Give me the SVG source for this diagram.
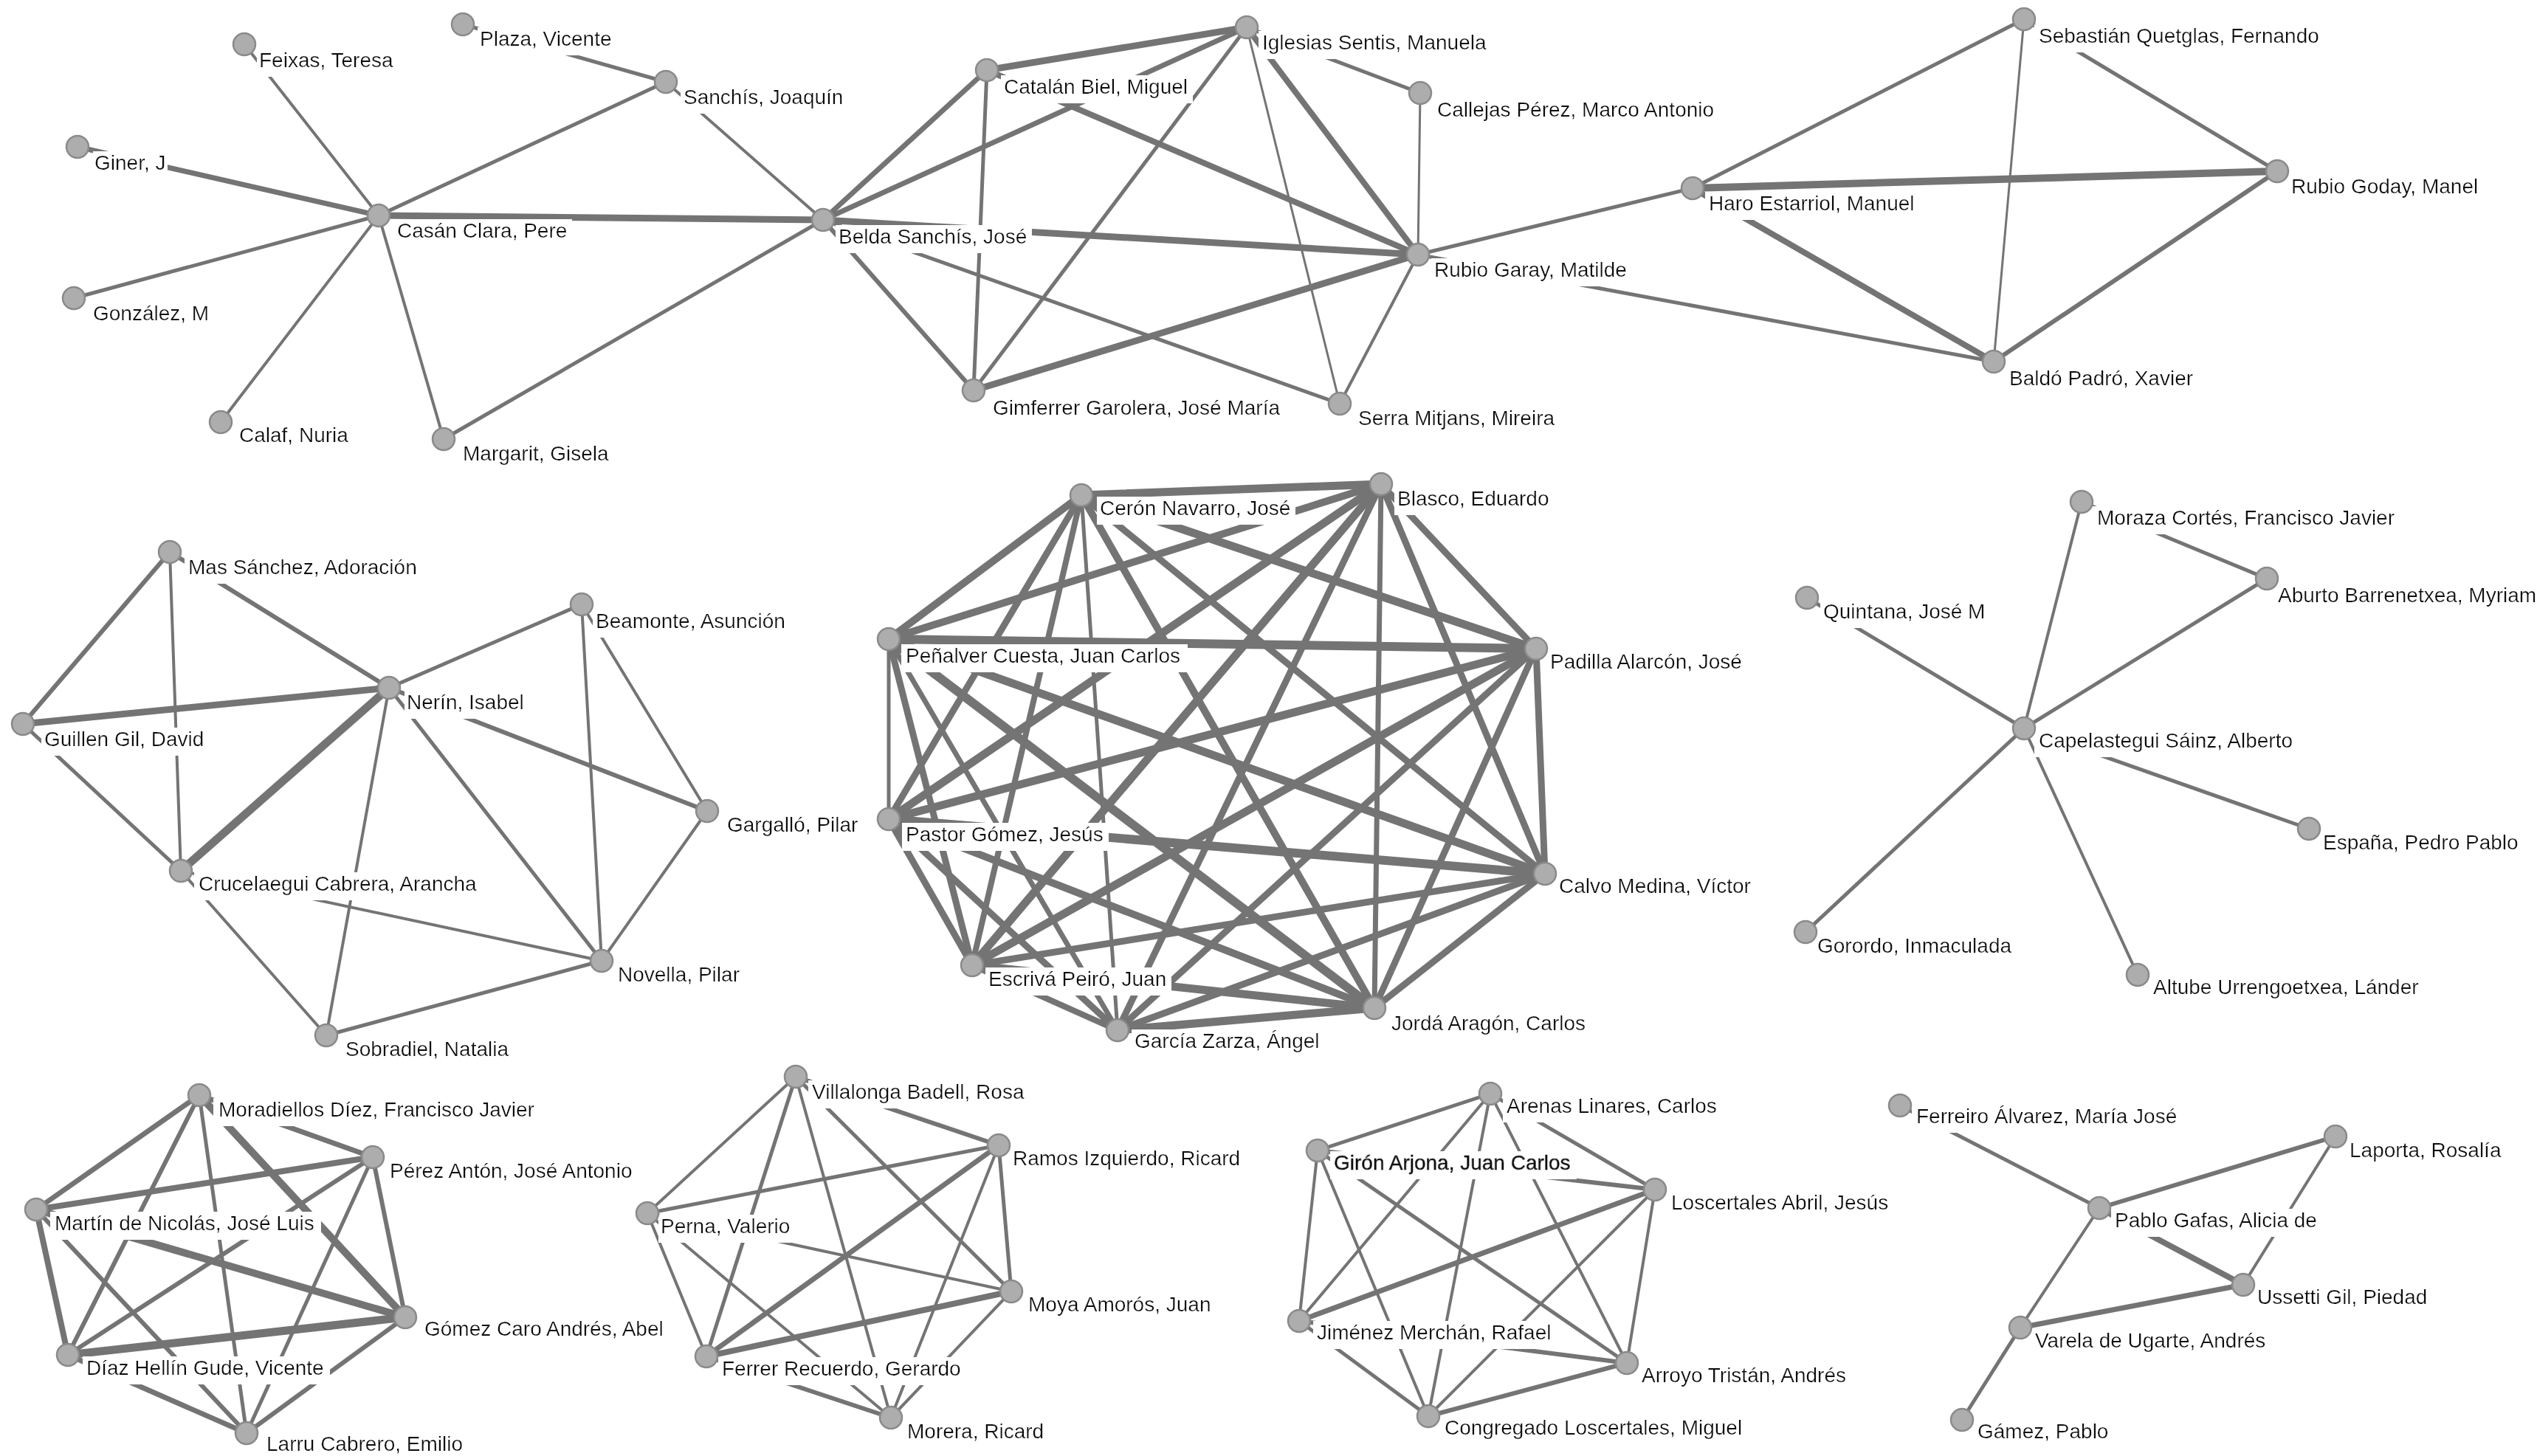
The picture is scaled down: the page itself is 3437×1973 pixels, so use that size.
<svg xmlns="http://www.w3.org/2000/svg" width="3437" height="1973" viewBox="0 0 3437 1973">
<style>
.bg{fill:#fff}
#edges line{stroke:#747474;stroke-linecap:round}
.w3{stroke-width:3}.w4{stroke-width:4}.w5{stroke-width:5}.w6{stroke-width:6}.w7{stroke-width:7}.w8{stroke-width:8}.w9{stroke-width:9}.w10{stroke-width:10}.w11{stroke-width:11}.w12{stroke-width:12}
.node circle{fill:#adadad;stroke:#8a8a8a;stroke-width:2.5}
.node text{font-family:"Liberation Sans",Arial,sans-serif;font-size:28px;fill:#111}
</style>
<defs>
<filter id="lbl" x="-0.015" y="0" width="1.04" height="1.22">
<feFlood flood-color="#ffffff" result="bg"/>
<feMerge><feMergeNode in="bg"/><feMergeNode in="SourceGraphic"/></feMerge>
</filter>
</defs>
<rect class="bg" x="0" y="0" width="3437" height="1973"/>
<g id="edges">
<!-- cluster 1 -->
<line class="w4" x1="513" y1="292" x2="331" y2="60"/>
<line class="w7" x1="513" y1="292" x2="105" y2="199"/>
<line class="w5" x1="513" y1="292" x2="100" y2="404"/>
<line class="w4" x1="513" y1="292" x2="299" y2="572"/>
<line class="w4" x1="513" y1="292" x2="601" y2="595"/>
<line class="w5" x1="513" y1="292" x2="902" y2="111"/>
<line class="w9" x1="513" y1="292" x2="1115" y2="298"/>
<line class="w5" x1="627" y1="33" x2="902" y2="111"/>
<line class="w4" x1="902" y1="111" x2="1115" y2="298"/>
<line class="w5" x1="601" y1="595" x2="1115" y2="298"/>
<line class="w7" x1="1115" y1="298" x2="1337" y2="95"/>
<line class="w7" x1="1115" y1="298" x2="1689" y2="37"/>
<line class="w9" x1="1115" y1="298" x2="1921" y2="345"/>
<line class="w6" x1="1115" y1="298" x2="1319" y2="529"/>
<line class="w5" x1="1115" y1="298" x2="1815" y2="547"/>
<line class="w9" x1="1337" y1="95" x2="1689" y2="37"/>
<line class="w5" x1="1337" y1="95" x2="1319" y2="529"/>
<line class="w8" x1="1337" y1="95" x2="1921" y2="345"/>
<line class="w5" x1="1689" y1="37" x2="1319" y2="529"/>
<line class="w3" x1="1689" y1="37" x2="1815" y2="547"/>
<line class="w8" x1="1689" y1="37" x2="1921" y2="345"/>
<line class="w5" x1="1689" y1="37" x2="1924" y2="126"/>
<line class="w3" x1="1924" y1="126" x2="1921" y2="345"/>
<line class="w9" x1="1319" y1="529" x2="1921" y2="345"/>
<line class="w4" x1="1815" y1="547" x2="1921" y2="345"/>
<line class="w5" x1="1921" y1="345" x2="2293" y2="255"/>
<line class="w5" x1="1921" y1="345" x2="2701" y2="490"/>
<line class="w5" x1="2293" y1="255" x2="2742" y2="26"/>
<line class="w10" x1="2293" y1="255" x2="3085" y2="232"/>
<line class="w8" x1="2293" y1="255" x2="2701" y2="490"/>
<line class="w3" x1="2742" y1="26" x2="2701" y2="490"/>
<line class="w5" x1="2742" y1="26" x2="3085" y2="232"/>
<line class="w6" x1="3085" y1="232" x2="2701" y2="490"/>
<!-- cluster 2 -->
<line class="w6" x1="230" y1="748" x2="31" y2="981"/>
<line class="w4" x1="230" y1="748" x2="245" y2="1180"/>
<line class="w6" x1="230" y1="748" x2="527" y2="932"/>
<line class="w9" x1="31" y1="981" x2="527" y2="932"/>
<line class="w5" x1="31" y1="981" x2="245" y2="1180"/>
<line class="w11" x1="245" y1="1180" x2="527" y2="932"/>
<line class="w5" x1="527" y1="932" x2="788" y2="819"/>
<line class="w4" x1="527" y1="932" x2="442" y2="1403"/>
<line class="w6" x1="527" y1="932" x2="958" y2="1099"/>
<line class="w5" x1="527" y1="932" x2="815" y2="1302"/>
<line class="w4" x1="788" y1="819" x2="815" y2="1302"/>
<line class="w4" x1="788" y1="819" x2="958" y2="1099"/>
<line class="w4" x1="958" y1="1099" x2="815" y2="1302"/>
<line class="w4" x1="245" y1="1180" x2="815" y2="1302"/>
<line class="w4" x1="245" y1="1180" x2="442" y2="1403"/>
<line class="w5" x1="442" y1="1403" x2="815" y2="1302"/>
<!-- cluster 3 -->
<line class="w11" x1="1465" y1="671" x2="1871" y2="656"/>
<line class="w10" x1="1465" y1="671" x2="1204" y2="866"/>
<line class="w11" x1="1465" y1="671" x2="2081" y2="879"/>
<line class="w9" x1="1465" y1="671" x2="1204" y2="1110"/>
<line class="w9" x1="1465" y1="671" x2="2093" y2="1184"/>
<line class="w8" x1="1465" y1="671" x2="1317" y2="1308"/>
<line class="w10" x1="1465" y1="671" x2="1862" y2="1366"/>
<line class="w5" x1="1465" y1="671" x2="1514" y2="1396"/>
<line class="w10" x1="1871" y1="656" x2="1204" y2="866"/>
<line class="w9" x1="1871" y1="656" x2="2081" y2="879"/>
<line class="w11" x1="1871" y1="656" x2="1204" y2="1110"/>
<line class="w9" x1="1871" y1="656" x2="2093" y2="1184"/>
<line class="w11" x1="1871" y1="656" x2="1317" y2="1308"/>
<line class="w7" x1="1871" y1="656" x2="1862" y2="1366"/>
<line class="w9" x1="1871" y1="656" x2="1514" y2="1396"/>
<line class="w12" x1="1204" y1="866" x2="2081" y2="879"/>
<line class="w5" x1="1204" y1="866" x2="1204" y2="1110"/>
<line class="w11" x1="1204" y1="866" x2="2093" y2="1184"/>
<line class="w9" x1="1204" y1="866" x2="1317" y2="1308"/>
<line class="w12" x1="1204" y1="866" x2="1862" y2="1366"/>
<line class="w7" x1="1204" y1="866" x2="1514" y2="1396"/>
<line class="w11" x1="2081" y1="879" x2="1204" y2="1110"/>
<line class="w9" x1="2081" y1="879" x2="2093" y2="1184"/>
<line class="w11" x1="2081" y1="879" x2="1317" y2="1308"/>
<line class="w9" x1="2081" y1="879" x2="1862" y2="1366"/>
<line class="w9" x1="2081" y1="879" x2="1514" y2="1396"/>
<line class="w12" x1="1204" y1="1110" x2="2093" y2="1184"/>
<line class="w9" x1="1204" y1="1110" x2="1317" y2="1308"/>
<line class="w10" x1="1204" y1="1110" x2="1862" y2="1366"/>
<line class="w9" x1="1204" y1="1110" x2="1514" y2="1396"/>
<line class="w9" x1="2093" y1="1184" x2="1317" y2="1308"/>
<line class="w9" x1="2093" y1="1184" x2="1862" y2="1366"/>
<line class="w9" x1="2093" y1="1184" x2="1514" y2="1396"/>
<line class="w11" x1="1317" y1="1308" x2="1862" y2="1366"/>
<line class="w8" x1="1317" y1="1308" x2="1514" y2="1396"/>
<line class="w11" x1="1862" y1="1366" x2="1514" y2="1396"/>
<!-- cluster 4 -->
<line class="w4" x1="2742" y1="987" x2="2820" y2="680"/>
<line class="w5" x1="2742" y1="987" x2="3071" y2="784"/>
<line class="w5" x1="2820" y1="680" x2="3071" y2="784"/>
<line class="w5" x1="2742" y1="987" x2="2448" y2="810"/>
<line class="w5" x1="2742" y1="987" x2="3128" y2="1123"/>
<line class="w5" x1="2742" y1="987" x2="2446" y2="1263"/>
<line class="w4" x1="2742" y1="987" x2="2896" y2="1321"/>
<!-- cluster 5 -->
<line class="w7" x1="270" y1="1484" x2="49" y2="1639"/>
<line class="w7" x1="270" y1="1484" x2="505" y2="1568"/>
<line class="w10" x1="270" y1="1484" x2="549" y2="1785"/>
<line class="w6" x1="270" y1="1484" x2="92" y2="1836"/>
<line class="w5" x1="270" y1="1484" x2="334" y2="1942"/>
<line class="w8" x1="505" y1="1568" x2="49" y2="1639"/>
<line class="w6" x1="505" y1="1568" x2="549" y2="1785"/>
<line class="w6" x1="505" y1="1568" x2="92" y2="1836"/>
<line class="w5" x1="505" y1="1568" x2="334" y2="1942"/>
<line class="w10" x1="49" y1="1639" x2="549" y2="1785"/>
<line class="w8" x1="49" y1="1639" x2="92" y2="1836"/>
<line class="w6" x1="49" y1="1639" x2="334" y2="1942"/>
<line class="w11" x1="549" y1="1785" x2="92" y2="1836"/>
<line class="w6" x1="549" y1="1785" x2="334" y2="1942"/>
<line class="w7" x1="92" y1="1836" x2="334" y2="1942"/>
<!-- cluster 6 -->
<line class="w4" x1="1078" y1="1459" x2="877" y2="1644"/>
<line class="w6" x1="1078" y1="1459" x2="1353" y2="1552"/>
<line class="w5" x1="1078" y1="1459" x2="1370" y2="1750"/>
<line class="w5" x1="1078" y1="1459" x2="957" y2="1838"/>
<line class="w4" x1="1078" y1="1459" x2="1207" y2="1921"/>
<line class="w5" x1="1353" y1="1552" x2="877" y2="1644"/>
<line class="w5" x1="1353" y1="1552" x2="1370" y2="1750"/>
<line class="w7" x1="1353" y1="1552" x2="957" y2="1838"/>
<line class="w4" x1="1353" y1="1552" x2="1207" y2="1921"/>
<line class="w4" x1="877" y1="1644" x2="1370" y2="1750"/>
<line class="w4" x1="877" y1="1644" x2="957" y2="1838"/>
<line class="w4" x1="877" y1="1644" x2="1207" y2="1921"/>
<line class="w8" x1="1370" y1="1750" x2="957" y2="1838"/>
<line class="w4" x1="1370" y1="1750" x2="1207" y2="1921"/>
<line class="w6" x1="957" y1="1838" x2="1207" y2="1921"/>
<!-- cluster 7 -->
<line class="w5" x1="2019" y1="1482" x2="1785" y2="1559"/>
<line class="w5" x1="2019" y1="1482" x2="2242" y2="1612"/>
<line class="w4" x1="2019" y1="1482" x2="1760" y2="1790"/>
<line class="w4" x1="2019" y1="1482" x2="1935" y2="1919"/>
<line class="w4" x1="2019" y1="1482" x2="2204" y2="1847"/>
<line class="w6" x1="1785" y1="1559" x2="2242" y2="1612"/>
<line class="w4" x1="1785" y1="1559" x2="1760" y2="1790"/>
<line class="w5" x1="1785" y1="1559" x2="2204" y2="1847"/>
<line class="w4" x1="1785" y1="1559" x2="1935" y2="1919"/>
<line class="w7" x1="2242" y1="1612" x2="1760" y2="1790"/>
<line class="w4" x1="2242" y1="1612" x2="2204" y2="1847"/>
<line class="w4" x1="2242" y1="1612" x2="1935" y2="1919"/>
<line class="w6" x1="1760" y1="1790" x2="2204" y2="1847"/>
<line class="w5" x1="1760" y1="1790" x2="1935" y2="1919"/>
<line class="w6" x1="2204" y1="1847" x2="1935" y2="1919"/>
<!-- cluster 8 -->
<line class="w5" x1="2574" y1="1498" x2="2844" y2="1637"/>
<line class="w6" x1="2844" y1="1637" x2="3164" y2="1540"/>
<line class="w4" x1="3164" y1="1540" x2="3039" y2="1741"/>
<line class="w8" x1="2844" y1="1637" x2="3039" y2="1741"/>
<line class="w4" x1="2844" y1="1637" x2="2737" y2="1799"/>
<line class="w7" x1="2737" y1="1799" x2="3039" y2="1741"/>
<line class="w5" x1="2737" y1="1799" x2="2658" y2="1924"/>
</g>
<g id="nodes">
<g id="n-casan" class="node"><text x="538" y="322" filter="url(#lbl)">Casán Clara, Pere</text><circle cx="513" cy="292" r="15"/></g>
<g id="n-feixas" class="node"><text x="351" y="91" filter="url(#lbl)">Feixas, Teresa</text><circle cx="331" cy="60" r="15"/></g>
<g id="n-plaza" class="node"><text x="650" y="62" filter="url(#lbl)">Plaza, Vicente</text><circle cx="627" cy="33" r="15"/></g>
<g id="n-sanchis" class="node"><text x="926" y="141" filter="url(#lbl)">Sanchís, Joaquín</text><circle cx="902" cy="111" r="15"/></g>
<g id="n-giner" class="node"><text x="128" y="230" filter="url(#lbl)">Giner, J</text><circle cx="105" cy="199" r="15"/></g>
<g id="n-gonzalez" class="node"><text x="126" y="434" filter="url(#lbl)">González, M</text><circle cx="100" cy="404" r="15"/></g>
<g id="n-calaf" class="node"><text x="324" y="599" filter="url(#lbl)">Calaf, Nuria</text><circle cx="299" cy="572" r="15"/></g>
<g id="n-margarit" class="node"><text x="627" y="624" filter="url(#lbl)">Margarit, Gisela</text><circle cx="601" cy="595" r="15"/></g>
<g id="n-belda" class="node"><text x="1136" y="330" filter="url(#lbl)">Belda Sanchís, José</text><circle cx="1115" cy="298" r="15"/></g>
<g id="n-catalan" class="node"><text x="1360" y="127" filter="url(#lbl)">Catalán Biel, Miguel</text><circle cx="1337" cy="95" r="15"/></g>
<g id="n-iglesias" class="node"><text x="1710" y="67" filter="url(#lbl)">Iglesias Sentis, Manuela</text><circle cx="1689" cy="37" r="15"/></g>
<g id="n-callejas" class="node"><text x="1947" y="158" filter="url(#lbl)">Callejas Pérez, Marco Antonio</text><circle cx="1924" cy="126" r="15"/></g>
<g id="n-rgaray" class="node"><text x="1943" y="375" filter="url(#lbl)">Rubio Garay, Matilde</text><circle cx="1921" cy="345" r="15"/></g>
<g id="n-gimferrer" class="node"><text x="1345" y="562" filter="url(#lbl)">Gimferrer Garolera, José María</text><circle cx="1319" cy="529" r="15"/></g>
<g id="n-serra" class="node"><text x="1840" y="576" filter="url(#lbl)">Serra Mitjans, Mireira</text><circle cx="1815" cy="547" r="15"/></g>
<g id="n-haro" class="node"><text x="2315" y="285" filter="url(#lbl)">Haro Estarriol, Manuel</text><circle cx="2293" cy="255" r="15"/></g>
<g id="n-sebastian" class="node"><text x="2762" y="58" filter="url(#lbl)">Sebastián Quetglas, Fernando</text><circle cx="2742" cy="26" r="15"/></g>
<g id="n-rgoday" class="node"><text x="3104" y="262" filter="url(#lbl)">Rubio Goday, Manel</text><circle cx="3085" cy="232" r="15"/></g>
<g id="n-baldo" class="node"><text x="2722" y="522" filter="url(#lbl)">Baldó Padró, Xavier</text><circle cx="2701" cy="490" r="15"/></g>

<g id="n-mas" class="node"><text x="255" y="778" filter="url(#lbl)">Mas Sánchez, Adoración</text><circle cx="230" cy="748" r="15"/></g>
<g id="n-guillen" class="node"><text x="60" y="1011" filter="url(#lbl)">Guillen Gil, David</text><circle cx="31" cy="981" r="15"/></g>
<g id="n-nerin" class="node"><text x="551" y="961" filter="url(#lbl)">Nerín, Isabel</text><circle cx="527" cy="932" r="15"/></g>
<g id="n-beamonte" class="node"><text x="807" y="851" filter="url(#lbl)">Beamonte, Asunción</text><circle cx="788" cy="819" r="15"/></g>
<g id="n-gargallo" class="node"><text x="985" y="1127" filter="url(#lbl)">Gargalló, Pilar</text><circle cx="958" cy="1099" r="15"/></g>
<g id="n-cruce" class="node"><text x="269" y="1207" filter="url(#lbl)">Crucelaegui Cabrera, Arancha</text><circle cx="245" cy="1180" r="15"/></g>
<g id="n-novella" class="node"><text x="837" y="1330" filter="url(#lbl)">Novella, Pilar</text><circle cx="815" cy="1302" r="15"/></g>
<g id="n-sobradiel" class="node"><text x="468" y="1431" filter="url(#lbl)">Sobradiel, Natalia</text><circle cx="442" cy="1403" r="15"/></g>

<g id="n-ceron" class="node"><text x="1490" y="698" filter="url(#lbl)">Cerón Navarro, José</text><circle cx="1465" cy="671" r="15"/></g>
<g id="n-blasco" class="node"><text x="1893" y="685" filter="url(#lbl)">Blasco, Eduardo</text><circle cx="1871" cy="656" r="15"/></g>
<g id="n-penalver" class="node"><text x="1227" y="898" filter="url(#lbl)">Peñalver Cuesta, Juan Carlos</text><circle cx="1204" cy="866" r="15"/></g>
<g id="n-padilla" class="node"><text x="2100" y="906" filter="url(#lbl)">Padilla Alarcón, José</text><circle cx="2081" cy="879" r="15"/></g>
<g id="n-pastor" class="node"><text x="1227" y="1140" filter="url(#lbl)">Pastor Gómez, Jesús</text><circle cx="1204" cy="1110" r="15"/></g>
<g id="n-calvo" class="node"><text x="2112" y="1210" filter="url(#lbl)">Calvo Medina, Víctor</text><circle cx="2093" cy="1184" r="15"/></g>
<g id="n-escriva" class="node"><text x="1339" y="1336" filter="url(#lbl)">Escrivá Peiró, Juan</text><circle cx="1317" cy="1308" r="15"/></g>
<g id="n-jorda" class="node"><text x="1885" y="1396" filter="url(#lbl)">Jordá Aragón, Carlos</text><circle cx="1862" cy="1366" r="15"/></g>
<g id="n-garcia" class="node"><text x="1537" y="1420" filter="url(#lbl)">García Zarza, Ángel</text><circle cx="1514" cy="1396" r="15"/></g>

<g id="n-moraza" class="node"><text x="2841" y="711" filter="url(#lbl)">Moraza Cortés, Francisco Javier</text><circle cx="2820" cy="680" r="15"/></g>
<g id="n-aburto" class="node"><text x="3086" y="816" filter="url(#lbl)">Aburto Barrenetxea, Myriam</text><circle cx="3071" cy="784" r="15"/></g>
<g id="n-quintana" class="node"><text x="2470" y="838" filter="url(#lbl)">Quintana, José M</text><circle cx="2448" cy="810" r="15"/></g>
<g id="n-capel" class="node"><text x="2762" y="1013" filter="url(#lbl)">Capelastegui Sáinz, Alberto</text><circle cx="2742" cy="987" r="15"/></g>
<g id="n-espana" class="node"><text x="3147" y="1151" filter="url(#lbl)">España, Pedro Pablo</text><circle cx="3128" cy="1123" r="15"/></g>
<g id="n-gorordo" class="node"><text x="2462" y="1291" filter="url(#lbl)">Gorordo, Inmaculada</text><circle cx="2446" cy="1263" r="15"/></g>
<g id="n-altube" class="node"><text x="2917" y="1347" filter="url(#lbl)">Altube Urrengoetxea, Lánder</text><circle cx="2896" cy="1321" r="15"/></g>

<g id="n-moradiellos" class="node"><text x="296" y="1513" filter="url(#lbl)">Moradiellos Díez, Francisco Javier</text><circle cx="270" cy="1484" r="15"/></g>
<g id="n-perez" class="node"><text x="528" y="1596" filter="url(#lbl)">Pérez Antón, José Antonio</text><circle cx="505" cy="1568" r="15"/></g>
<g id="n-martin" class="node"><text x="74" y="1667" filter="url(#lbl)">Martín de Nicolás, José Luis</text><circle cx="49" cy="1639" r="15"/></g>
<g id="n-gomez" class="node"><text x="575" y="1810" filter="url(#lbl)">Gómez Caro Andrés, Abel</text><circle cx="549" cy="1785" r="15"/></g>
<g id="n-diaz" class="node"><text x="117" y="1863" filter="url(#lbl)">Díaz Hellín Gude, Vicente</text><circle cx="92" cy="1836" r="15"/></g>
<g id="n-larru" class="node"><text x="361" y="1966" filter="url(#lbl)">Larru Cabrero, Emilio</text><circle cx="334" cy="1942" r="15"/></g>

<g id="n-villalonga" class="node"><text x="1100" y="1489" filter="url(#lbl)">Villalonga Badell, Rosa</text><circle cx="1078" cy="1459" r="15"/></g>
<g id="n-ramos" class="node"><text x="1372" y="1579" filter="url(#lbl)">Ramos Izquierdo, Ricard</text><circle cx="1353" cy="1552" r="15"/></g>
<g id="n-perna" class="node"><text x="895" y="1671" filter="url(#lbl)">Perna, Valerio</text><circle cx="877" cy="1644" r="15"/></g>
<g id="n-moya" class="node"><text x="1393" y="1777" filter="url(#lbl)">Moya Amorós, Juan</text><circle cx="1370" cy="1750" r="15"/></g>
<g id="n-ferrer" class="node"><text x="978" y="1864" filter="url(#lbl)">Ferrer Recuerdo, Gerardo</text><circle cx="957" cy="1838" r="15"/></g>
<g id="n-morera" class="node"><text x="1229" y="1949" filter="url(#lbl)">Morera, Ricard</text><circle cx="1207" cy="1921" r="15"/></g>

<g id="n-arenas" class="node"><text x="2041" y="1508" filter="url(#lbl)">Arenas Linares, Carlos</text><circle cx="2019" cy="1482" r="15"/></g>
<g id="n-giron" class="node"><text x="1807" y="1585" filter="url(#lbl)" stroke="#111" stroke-width="0.8">Girón Arjona, Juan Carlos</text><circle cx="1785" cy="1559" r="15"/></g>
<g id="n-losc" class="node"><text x="2264" y="1639" filter="url(#lbl)">Loscertales Abril, Jesús</text><circle cx="2242" cy="1612" r="15"/></g>
<g id="n-jimenez" class="node"><text x="1784" y="1815" filter="url(#lbl)">Jiménez Merchán, Rafael</text><circle cx="1760" cy="1790" r="15"/></g>
<g id="n-arroyo" class="node"><text x="2224" y="1873" filter="url(#lbl)">Arroyo Tristán, Andrés</text><circle cx="2204" cy="1847" r="15"/></g>
<g id="n-congregado" class="node"><text x="1957" y="1944" filter="url(#lbl)">Congregado Loscertales, Miguel</text><circle cx="1935" cy="1919" r="15"/></g>

<g id="n-ferreiro" class="node"><text x="2596" y="1522" filter="url(#lbl)">Ferreiro Álvarez, María José</text><circle cx="2574" cy="1498" r="15"/></g>
<g id="n-laporta" class="node"><text x="3183" y="1568" filter="url(#lbl)">Laporta, Rosalía</text><circle cx="3164" cy="1540" r="15"/></g>
<g id="n-pablo" class="node"><text x="2865" y="1663" filter="url(#lbl)">Pablo Gafas, Alicia de</text><circle cx="2844" cy="1637" r="15"/></g>
<g id="n-ussetti" class="node"><text x="3058" y="1767" filter="url(#lbl)">Ussetti Gil, Piedad</text><circle cx="3039" cy="1741" r="15"/></g>
<g id="n-varela" class="node"><text x="2757" y="1826" filter="url(#lbl)">Varela de Ugarte, Andrés</text><circle cx="2737" cy="1799" r="15"/></g>
<g id="n-gamez" class="node"><text x="2679" y="1949" filter="url(#lbl)">Gámez, Pablo</text><circle cx="2658" cy="1924" r="15"/></g>
</g>
</svg>
